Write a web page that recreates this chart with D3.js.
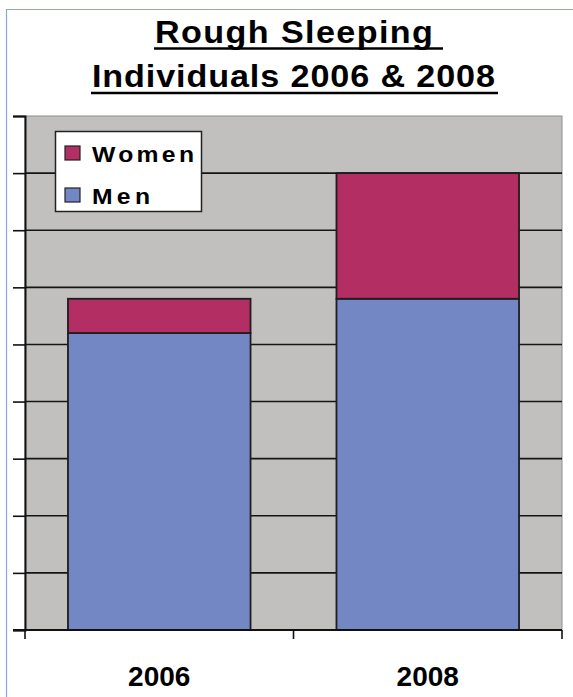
<!DOCTYPE html>
<html>
<head>
<meta charset="utf-8">
<script src="https://cdn.jsdelivr.net/npm/d3@7"></script>
<style>
  html, body { margin: 0; padding: 0; background: #fff; }
  svg { display: block; }
</style>
</head>
<body>
<svg id="chart" width="573" height="697"></svg>
<script>
// Rough sleeping counts by year, split by gender
const years = ["2006", "2008"];
const men = [52, 58];
const women = [6, 22];
const seriesKeys = ["Men", "Women"];
const yTicks = [0, 10, 20, 30, 40, 50, 60, 70, 80, 90];
const titleLines = ["Rough Sleeping", "Individuals 2006 & 2008"];

const colors = { Men: "#7287C4", Women: "#B22E63" };
const font = "'Liberation Sans', Arial, sans-serif";

const svg = d3.select("#chart");
const W = 573, H = 697;
const plot = { left: 25, right: 562, top: 116, bottom: 630 };

// Draws wide bold text: glyphs stretched horizontally by sx, spread to span width w
function wideText(parent, str, x0, y0, w, size, sx) {
  const g = parent.append("g").attr("transform", `translate(${x0},${y0}) scale(${sx},1)`);
  g.append("text")
    .attr("x", 0).attr("y", 0)
    .attr("font-family", font).attr("font-weight", "bold")
    .attr("font-size", size).attr("fill", "#000")
    .attr("textLength", w / sx).attr("lengthAdjust", "spacing")
    .text(str);
  return g;
}

// outer frame (top and left edges)
svg.append("line").attr("x1", 6).attr("x2", W).attr("y1", 9.5).attr("y2", 9.5)
  .attr("stroke", "#8FA6D2").attr("stroke-width", 1.2);
svg.append("line").attr("x1", 6.5).attr("x2", 6.5).attr("y1", 9).attr("y2", H)
  .attr("stroke", "#8FA6D2").attr("stroke-width", 1.2);

// title, bold and underlined
const titleX = [155, 92];
const titleY = [42.5, 87];
const titleW = [278, 403];
const underlineEnd = [443, 498];
titleLines.forEach((t, i) => {
  wideText(svg, t, titleX[i], titleY[i], titleW[i], 30.5, 1.12);
  svg.append("line")
    .attr("x1", titleX[i] - 1).attr("x2", underlineEnd[i])
    .attr("y1", titleY[i] + 6).attr("y2", titleY[i] + 6)
    .attr("stroke", "#000").attr("stroke-width", 2.6);
});

// scales
const x = d3.scaleBand().domain(years).range([plot.left, plot.right])
  .paddingInner(0.32).paddingOuter(0.16);
const y = d3.scaleLinear().domain([0, 90]).range([plot.bottom, plot.top]);

// plot background
svg.append("rect")
  .attr("x", plot.left).attr("y", plot.top)
  .attr("width", plot.right - plot.left).attr("height", plot.bottom - plot.top)
  .attr("fill", "#C1C0BE")
  .attr("stroke", "#8E8E8E").attr("stroke-width", 1);

// horizontal gridlines
svg.append("g").selectAll("line")
  .data(yTicks.filter(v => v > 0 && v < 90))
  .join("line")
  .attr("x1", plot.left).attr("x2", plot.right)
  .attr("y1", d => y(d)).attr("y2", d => y(d))
  .attr("stroke", "#151515").attr("stroke-width", 1.6);

// stacked bars
const rows = years.map((yr, i) => ({ year: yr, Men: men[i], Women: women[i] }));
const stacked = d3.stack().keys(seriesKeys)(rows);
svg.append("g").selectAll("g")
  .data(stacked)
  .join("g")
  .attr("fill", d => colors[d.key])
  .selectAll("rect")
  .data(d => d)
  .join("rect")
  .attr("x", d => x(d.data.year))
  .attr("width", x.bandwidth())
  .attr("y", d => y(d[1]))
  .attr("height", d => y(d[0]) - y(d[1]))
  .attr("stroke", "#1e1e1e").attr("stroke-width", 1.8);

// y axis: line and ticks, no labels
const yAxis = d3.axisLeft(y).tickValues(yTicks).tickSize(12).tickFormat("");
const gy = svg.append("g").attr("transform", `translate(${plot.left},0)`).call(yAxis);
gy.select(".domain").attr("stroke", "#111").attr("stroke-width", 2);
gy.selectAll(".tick line").attr("stroke", "#111").attr("stroke-width", 1.6);

// x axis with ticks at category boundaries
const xAxisLine = svg.append("g");
xAxisLine.append("line")
  .attr("x1", plot.left - 12).attr("x2", plot.right)
  .attr("y1", plot.bottom).attr("y2", plot.bottom)
  .attr("stroke", "#111").attr("stroke-width", 2);
const boundaries = [plot.left, (plot.left + plot.right) / 2, plot.right];
xAxisLine.selectAll("line.b").data(boundaries).join("line").attr("class", "b")
  .attr("x1", d => d).attr("x2", d => d)
  .attr("y1", plot.bottom).attr("y2", plot.bottom + 9)
  .attr("stroke", "#111").attr("stroke-width", 1.6);

// category labels
svg.append("g").selectAll("text")
  .data(years)
  .join("text")
  .attr("x", d => x(d) + x.bandwidth() / 2)
  .attr("y", 686)
  .attr("text-anchor", "middle")
  .attr("font-family", font).attr("font-weight", "bold")
  .attr("font-size", 28).attr("fill", "#000")
  .text(d => d);

// legend
const lg = svg.append("g");
lg.append("rect")
  .attr("x", 55.5).attr("y", 131.5).attr("width", 146).attr("height", 80)
  .attr("fill", "#fff").attr("stroke", "#222").attr("stroke-width", 1.5);
const legendItems = [
  { key: "Women", y: 162, w: 102 },
  { key: "Men", y: 204, w: 58 }
];
legendItems.forEach(it => {
  lg.append("rect")
    .attr("x", 65).attr("y", it.y - 16).attr("width", 15).attr("height", 14)
    .attr("fill", colors[it.key]).attr("stroke", "#222").attr("stroke-width", 1.2);
  wideText(lg, it.key, 92, it.y, it.w, 21.5, 1.15);
});
</script>
</body>
</html>
